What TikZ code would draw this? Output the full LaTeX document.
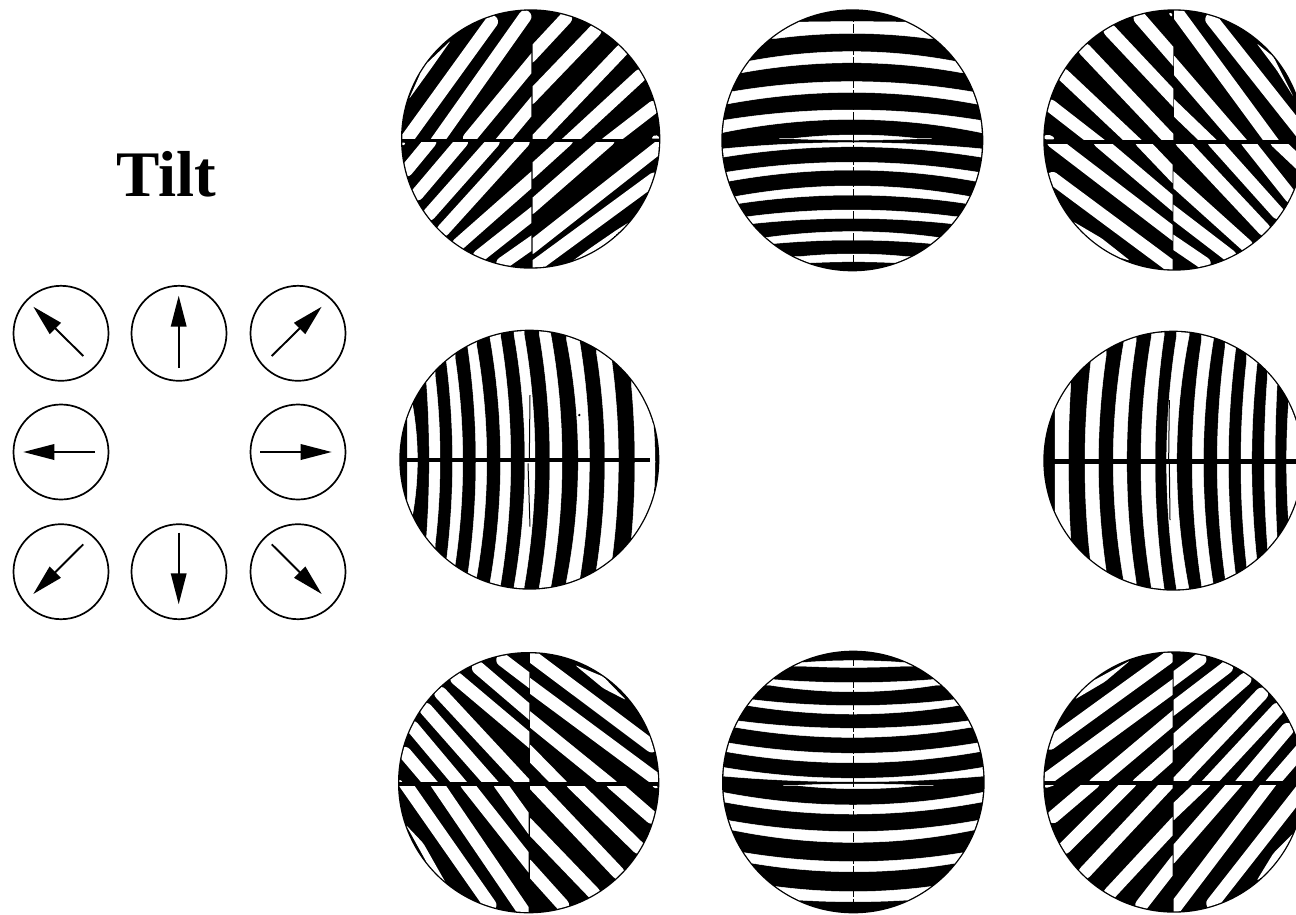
\documentclass[tikz,border=0pt]{standalone}
\usepackage{fontspec}
\setmainfont{Liberation Serif}
\usetikzlibrary{arrows.meta}
\tikzset{
  dial/.style={draw=black,line width=1.7pt,circle,minimum size=95pt,inner sep=0pt},
  tiltarrow/.style={draw=black,line width=1.9pt,-{Triangle[length=31pt,width=15.5pt]}},
  fringe/.style={fill=white,rounded corners=2pt},
  bar/.style={draw=white,line width=12.8pt,line cap=round},
  band/.style={fill=white,draw=white,line width=.5pt},
  hairline/.style={draw=black,line width=.7pt},
  titletext/.style={anchor=base,inner sep=0pt,font=\fontsize{65}{70}\selectfont\bfseries}
}
\newcommand\wh[1]{\fill[fringe] #1 -- cycle;}
\newcommand\ba[2]{\draw[bar] (#1) -- (#2);}
% quadrant of straight fringes
\newcommand\quadr[5]{\begin{scope}\clip (#1,#2) rectangle (#3,#4); #5 \end{scope}}
% horizontal fringe bounded by two parabolas: xL xR topEnd topMid botEnd botMid
\newcommand\hb[6]{\path[band] ({#1-40},#3) -- (#1,#3)
  .. controls ({#1+(#2-#1)/3},{(4*#4-#3)/3}) and ({#1+2*(#2-#1)/3},{(4*#4-#3)/3}) .. (#2,#3)
  -- ({#2+40},#3) -- ({#2+40},#5) -- (#2,#5)
  .. controls ({#1+2*(#2-#1)/3},{(4*#6-#5)/3}) and ({#1+(#2-#1)/3},{(4*#6-#5)/3}) .. (#1,#5)
  -- ({#1-40},#5) -- cycle;}
% vertical fringe: yT yB leftEnd leftMid rightEnd rightMid
\newcommand\vb[6]{\path[band] (#3,{#1-40}) -- (#3,#1)
  .. controls ({(4*#4-#3)/3},{#1+(#2-#1)/3}) and ({(4*#4-#3)/3},{#1+2*(#2-#1)/3}) .. (#3,#2)
  -- (#3,{#2+40}) -- (#5,{#2+40}) -- (#5,#2)
  .. controls ({(4*#6-#5)/3},{#1+2*(#2-#1)/3}) and ({(4*#6-#5)/3},{#1+(#2-#1)/3}) .. (#5,#1)
  -- (#5,{#1-40}) -- cycle;}
\newcommand\fringedisc[6]{%
  \begin{scope}[shift={(#1,#2)},x=.33333pt,y=-.33333pt]
    \fill[black] (#3,#4) circle[radius=#5];
    \begin{scope}
      \clip (#3,#4) circle[radius=#5-4];
      #6
    \end{scope}
  \end{scope}}
\begin{document}
\begin{tikzpicture}[x=1pt,y=-1pt]
\useasboundingbox (0,0) rectangle (1296,914);
\clip (0,0) rectangle (1296,914);
\node[titletext] (title) at (166.5,196) {Tilt};
% dials
\node[dial] (nw) at (61,333.3) {};
\node[dial] (no) at (179,333.3) {};
\node[dial] (ne) at (298,333.3) {};
\node[dial] (we) at (61,452) {};
\node[dial] (ea) at (298,452) {};
\node[dial] (sw) at (61,571.7) {};
\node[dial] (so) at (179,571.7) {};
\node[dial] (se) at (298,571.7) {};
\coordinate (nwa) at (83.3,356);   \coordinate (nwb) at (33.3,306.7);
\coordinate (noa) at (178.7,368);  \coordinate (nob) at (178.7,295.7);
\coordinate (nea) at (271.7,356);  \coordinate (neb) at (321.7,306.7);
\coordinate (wea) at (95,452);     \coordinate (web) at (23.3,452);
\coordinate (eaa) at (260,452);    \coordinate (eab) at (331.7,452);
\coordinate (swa) at (83.3,544.3); \coordinate (swb) at (33.3,594);
\coordinate (soa) at (178.7,532.7);\coordinate (sob) at (178.7,604.3);
\coordinate (sea) at (271.7,544.3);\coordinate (seb) at (321.7,594);
\foreach \d in {nw,no,ne,we,ea,sw,so,se}{\draw[tiltarrow] (\d a) -- (\d b);}
% top left
\fringedisc{390}{0}{422}{417}{389}{
\quadr{0}{0}{424}{416}{
\wh{(57,297)--(100,200)--(182,122)--(120,210)}
\ba{305,65}{45,425}\ba{405,50}{140,425}\ba{238,415}{438,173}\ba{330,432}{440,300}}
\quadr{428}{0}{830}{416}{
\ba{527,55}{420,170}\ba{615,92}{420,295}\ba{695,152}{430,430}\ba{750,227}{530,430}\ba{790,322}{650,430}
\wh{(783,416)--(795,403)--(815,416)}}
\quadr{0}{428}{424}{830}{
\wh{(30,428)--(48,428)--(40,438)}
\ba{120,425}{50,510}\ba{215,425}{82,582}\ba{310,425}{118,642}\ba{400,425}{160,690}\ba{205,733}{435,530}\ba{268,768}{435,636}\ba{338,790}{435,722}}
\quadr{428}{428}{830}{830}{
\ba{530,420}{420,520}\ba{655,420}{420,625}\ba{806,442}{420,745}\ba{792,537}{420,810}
\wh{(545,785)--(640,740)--(720,665)--(680,690)--(600,745)}}
}
% top centre
\fringedisc{710}{0}{427}{421}{393}{
\hb{198}{655}{68}{65}{115}{100}
\hb{95}{755}{188}{155}{218}{188}
\hb{50}{800}{278}{245}{312}{277}
\hb{35}{815}{362}{330}{398}{358}
\hb{248}{625}{416}{405}{416}{420}
\hb{35}{818}{447}{428}{472}{440}
\hb{48}{805}{517}{487}{545}{510}
\hb{75}{780}{590}{558}{612}{585}
\hb{115}{735}{650}{630}{672}{655}
\hb{175}{680}{712}{695}{732}{720}
\hb{270}{590}{770}{762}{790}{785}
\draw[hairline,dash pattern=on 9pt off 2pt] (429,40) -- (429,800);
}
% top right
\fringedisc{1030}{0}{432}{420}{392}{
\quadr{0}{0}{430}{418}{
\wh{(43,405)--(65,405)--(75,418)--(43,418)}
\ba{62,318}{215,437}\ba{100,225}{325,437}\ba{165,150}{440,440}\ba{240,92}{445,310}\ba{330,55}{445,187}\wh{(415,38)--(428,40)--(425,52)}}
\quadr{432}{0}{830}{418}{
\ba{445,42}{735,437}\ba{420,182}{640,437}\ba{420,312}{550,437}\ba{545,58}{830,418}
\wh{(680,130)--(730,170)--(790,290)--(740,210)}}
\quadr{0}{432}{428}{830}{
\ba{335,425}{440,535}\ba{210,425}{440,620}\ba{70,425}{440,708}\ba{68,535}{425,800}
\wh{(130,665)--(215,715)--(300,782)--(210,755)}}
\quadr{430}{432}{830}{830}{
\ba{455,425}{702,688}\ba{552,425}{743,638}\ba{652,425}{783,590}\ba{740,425}{830,510}\ba{420,530}{650,737}\ba{420,630}{600,768}\ba{420,720}{523,790}}
}
% middle left
\fringedisc{390}{320}{418}{419}{390}{
\vb{258}{582}{52}{52}{68}{82}
\vb{165}{675}{108}{118}{135}{150}
\vb{113}{735}{168}{188}{195}{218}
\vb{78}{768}{233}{258}{260}{290}
\vb{52}{790}{300}{332}{332}{362}
\vb{42}{802}{372}{405}{402}{435}
\vb{42}{802}{448}{480}{482}{516}
\vb{60}{782}{530}{565}{568}{598}
\vb{100}{745}{620}{645}{662}{685}
\vb{200}{650}{725}{735}{775}{795}
\fill[black] (30,414) rectangle (780,426);
\draw[black,line width=1pt] (420,225) -- (418,415) (414,430) -- (420,620);
\fill[black] (568,285) circle[radius=4];
}
% middle right
\fringedisc{1030}{320}{430}{422}{390}{
\vb{195}{655}{75}{75}{122}{115}
\vb{108}{750}{185}{165}{228}{205}
\vb{65}{785}{282}{250}{318}{290}
\vb{47}{805}{365}{333}{402}{375}
\vb{48}{808}{440}{410}{477}{440}
\vb{60}{795}{515}{487}{550}{520}
\vb{85}{768}{585}{562}{617}{595}
\vb{122}{735}{650}{633}{682}{665}
\vb{178}{670}{712}{703}{742}{735}
\vb{262}{590}{775}{770}{830}{830}
\fill[black] (45,418) rectangle (830,432);
\draw[black,line width=1pt] (418,240) -- (416,418) (418,432) -- (420,600);
}
% bottom left
\fringedisc{390}{640}{416}{428}{392}{
\quadr{0}{0}{418}{425}{
\wh{(25,418)--(40,425)--(25,428)}
\ba{45,340}{130,440}\ba{68,262}{220,443}\ba{108,208}{315,443}\ba{152,160}{415,443}\ba{200,116}{430,310}\ba{265,84}{430,225}\ba{338,60}{430,130}}
\quadr{420}{0}{830}{425}{
\ba{430,52}{785,318}\ba{410,130}{815,430}\ba{410,230}{665,437}\ba{410,330}{515,437}
\wh{(555,75)--(640,110)--(708,180)--(640,145)}}
\quadr{0}{440}{416}{830}{
\ba{45,430}{300,795}\ba{140,430}{400,812}\ba{230,432}{430,685}\ba{330,432}{430,570}
\wh{(48,555)--(100,610)--(168,730)--(120,685)}}
\quadr{420}{438}{830}{830}{
\ba{668,430}{785,532}\ba{548,430}{745,622}\ba{430,430}{684,698}\ba{410,550}{612,760}\ba{410,675}{518,795}
\wh{(785,438)--(805,438)--(800,447)}}
}
% bottom centre
\fringedisc{710}{640}{430}{426}{394}{
\hb{275}{585}{68}{62}{78}{82}
\hb{178}{680}{118}{128}{135}{155}
\hb{118}{740}{178}{197}{197}{222}
\hb{78}{780}{242}{265}{262}{292}
\hb{50}{808}{308}{340}{335}{368}
\hb{38}{820}{382}{415}{408}{425}
\hb{260}{630}{436}{432}{436}{446}
\hb{38}{820}{457}{495}{485}{522}
\hb{58}{800}{542}{575}{568}{607}
\hb{102}{760}{638}{665}{665}{695}
\hb{200}{660}{740}{755}{775}{785}
\draw[hairline,dash pattern=on 9pt off 2pt] (430,50) -- (430,810);
}
% bottom right
\fringedisc{1030}{640}{432}{426}{392}{
\quadr{0}{0}{428}{422}{
\wh{(135,178)--(175,130)--(300,62)--(225,125)}
\ba{60,310}{412,55}\ba{30,432}{440,132}\ba{195,432}{440,226}\ba{325,432}{440,330}}
\quadr{431}{0}{830}{422}{
\ba{510,58}{420,125}\ba{590,82}{420,212}\ba{645,118}{420,315}\ba{695,162}{435,436}\ba{742,208}{530,436}\ba{772,268}{630,436}\ba{830,310}{720,437}}
\quadr{0}{435}{428}{830}{
\wh{(45,432)--(75,435)--(45,445)}
\ba{190,428}{70,530}\ba{300,428}{105,622}\ba{420,425}{165,697}\ba{440,545}{240,760}\ba{440,660}{335,795}}
\quadr{431}{435}{830}{830}{
\ba{525,425}{420,525}\ba{620,425}{420,655}\ba{722,425}{430,810}\ba{830,430}{548,790}
\wh{(680,722)--(730,640)--(800,570)--(780,630)--(745,680)}}
}
\end{tikzpicture}
\end{document}
